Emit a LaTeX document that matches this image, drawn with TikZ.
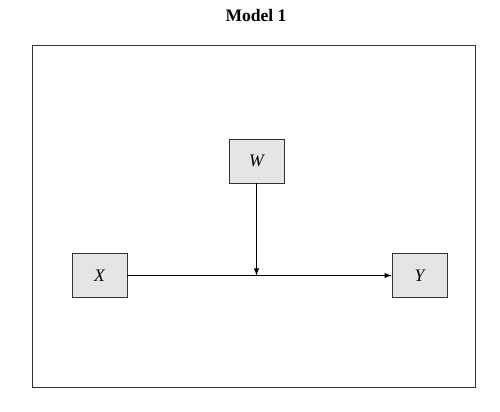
\documentclass[tikz,border=0pt]{standalone}
\usepackage{fontspec}
\setmainfont{Liberation Serif}
\begin{document}
\begin{tikzpicture}[x=0.02cm,y=-0.02cm,
        var/.style={draw=black!80,fill=black!10,minimum width=1.1cm,minimum height=0.88cm,font=\itshape}]
        \useasboundingbox (0,0) rectangle (500,412);
        \node (title) at (256,15) {\bfseries Model 1};
        \draw [black!80] (32,45) rectangle (475,387);
        \node [var] (W) at (256.5,161) {W};
        \node [var] (X) at (99.5,275.5) {X};
        \node [var] (Y) at (419.5,275.5) {Y};
        \draw [-latex] (X) -- (Y);
        \draw [-latex] (W) -- (W |- X.east);
    \end{tikzpicture}
\end{document}
